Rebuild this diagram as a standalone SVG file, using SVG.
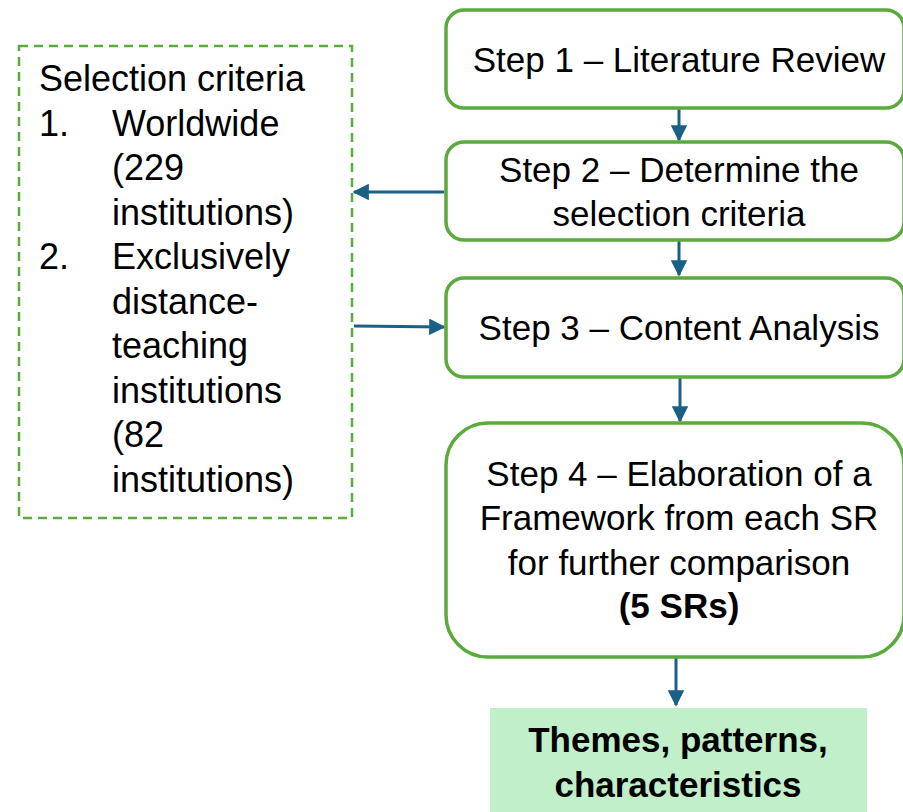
<svg xmlns="http://www.w3.org/2000/svg" width="903" height="812" viewBox="0 0 903 812">
<defs>
<style>
.step{fill:#ffffff;stroke:#5aaa3c;stroke-width:3.5}
.dash{fill:none;stroke:#5aaa3c;stroke-width:2.5;stroke-dasharray:9 6}
.t{font-family:"Liberation Sans",Arial,sans-serif;font-size:35px;fill:#000}
.l{font-size:36px}
.c{text-anchor:middle}
.b{font-weight:bold}
.conn{stroke:#1a6085;stroke-width:3;fill:none}
</style>
<marker id="ah" viewBox="0 0 10 10" refX="9" refY="5" markerWidth="5.5" markerHeight="5.5" markerUnits="strokeWidth" orient="auto">
<path d="M0,0 L10,5 L0,10 Z" fill="#1a6085"/>
</marker>
</defs>
<rect width="903" height="812" fill="#ffffff"/>
<g id="connectors">
<line class="conn" x1="679" y1="108" x2="679" y2="140" marker-end="url(#ah)"/>
<line class="conn" x1="679" y1="240" x2="679" y2="275" marker-end="url(#ah)"/>
<line class="conn" x1="680" y1="377" x2="680" y2="421" marker-end="url(#ah)"/>
<line class="conn" x1="676" y1="657" x2="676" y2="705" marker-end="url(#ah)"/>
<line class="conn" x1="444" y1="192" x2="354" y2="192" marker-end="url(#ah)"/>
<line class="conn" x1="354" y1="326" x2="444" y2="327" marker-end="url(#ah)"/>
</g>
<g id="criteria">
<rect class="dash" x="19" y="46" width="333" height="472"/>
<text class="t l" x="39" y="91">Selection criteria</text>
<text class="t l" x="39" y="136">1.</text>
<text class="t l" x="112" y="136">Worldwide</text>
<text class="t l" x="112" y="180">(229</text>
<text class="t l" x="112" y="225">institutions)</text>
<text class="t l" x="39" y="269">2.</text>
<text class="t l" x="112" y="269">Exclusively</text>
<text class="t l" x="112" y="314">distance-</text>
<text class="t l" x="112" y="358">teaching</text>
<text class="t l" x="112" y="403">institutions</text>
<text class="t l" x="112" y="447">(82</text>
<text class="t l" x="112" y="492">institutions)</text>
</g>
<g id="step1">
<rect class="step" x="446" y="10" width="458" height="98" rx="18"/>
<text class="t c" x="679" y="72">Step 1 – Literature Review</text>
</g>
<g id="step2">
<rect class="step" x="446" y="142" width="458" height="98" rx="18"/>
<text class="t c" x="679" y="182">Step 2 – Determine the</text>
<text class="t c" x="679" y="226">selection criteria</text>
</g>
<g id="step3">
<rect class="step" x="446" y="278" width="458" height="99" rx="18"/>
<text class="t c" x="679" y="340">Step 3 – Content Analysis</text>
</g>
<g id="step4">
<rect class="step" x="446" y="423" width="458" height="234" rx="42"/>
<text class="t c" x="679" y="486">Step 4 – Elaboration of a</text>
<text class="t c" x="679" y="530">Framework from each SR</text>
<text class="t c" x="679" y="575">for further comparison</text>
<text class="t c b" x="679" y="618">(5 SRs)</text>
</g>
<g id="themes">
<rect x="490" y="708" width="377" height="110" fill="#c1efc9"/>
<text class="t c b" x="678" y="752">Themes, patterns,</text>
<text class="t c b" x="678" y="797">characteristics</text>
</g>
</svg>
